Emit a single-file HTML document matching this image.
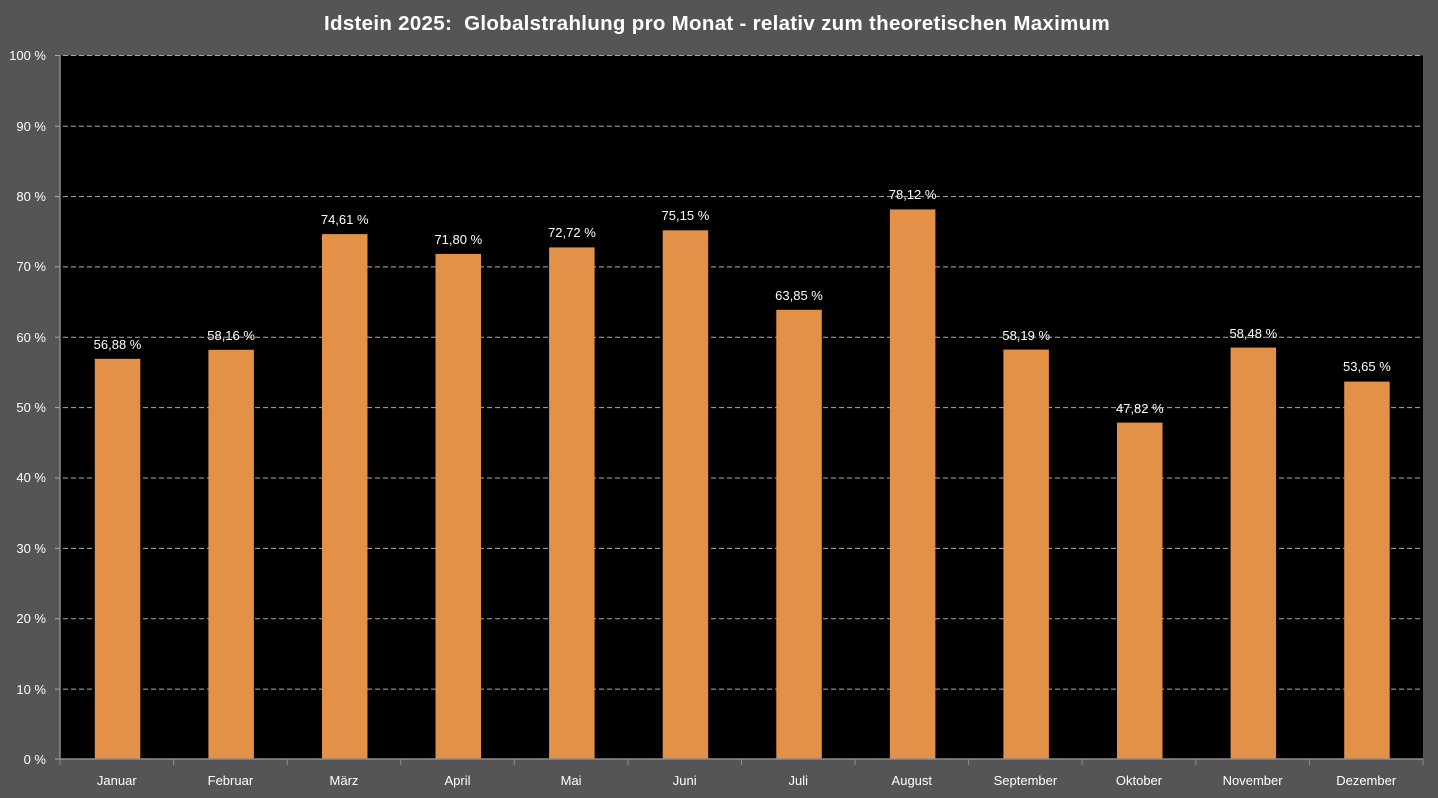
<!DOCTYPE html>
<html><head><meta charset="utf-8"><style>
html,body{margin:0;padding:0;background:#555555;}
svg{display:block;font-family:"Liberation Sans","DejaVu Sans",sans-serif;}
</style></head><body>
<svg width="1438" height="798" viewBox="0 0 1438 798">
<rect width="1438" height="798" fill="#555555"/>
<text x="717" y="30" text-anchor="middle" fill="#ffffff" font-size="20.5" font-weight="bold" letter-spacing="0.3">Idstein 2025:&#160; Globalstrahlung pro Monat - relativ zum theoretischen Maximum</text>
<rect x="60" y="55.5" width="1363" height="703.5" fill="#000000"/>
<g stroke="#aaaaaa" stroke-width="1" stroke-dasharray="5,3">
<line x1="55" x2="1423" y1="55.5" y2="55.5"/>
<line x1="55" x2="1423" y1="126.2" y2="126.2"/>
<line x1="55" x2="1423" y1="196.6" y2="196.6"/>
<line x1="55" x2="1423" y1="266.9" y2="266.9"/>
<line x1="55" x2="1423" y1="337.3" y2="337.3"/>
<line x1="55" x2="1423" y1="407.6" y2="407.6"/>
<line x1="55" x2="1423" y1="478.0" y2="478.0"/>
<line x1="55" x2="1423" y1="548.4" y2="548.4"/>
<line x1="55" x2="1423" y1="618.7" y2="618.7"/>
<line x1="55" x2="1423" y1="689.1" y2="689.1"/>
</g>
<g fill="#e39149">
<rect x="94.8" y="358.8" width="45.5" height="400.2"/>
<rect x="208.4" y="349.8" width="45.5" height="409.2"/>
<rect x="322.0" y="234.1" width="45.5" height="524.9"/>
<rect x="435.5" y="253.9" width="45.5" height="505.1"/>
<rect x="549.1" y="247.4" width="45.5" height="511.6"/>
<rect x="662.7" y="230.3" width="45.5" height="528.7"/>
<rect x="776.3" y="309.8" width="45.5" height="449.2"/>
<rect x="889.9" y="209.4" width="45.5" height="549.6"/>
<rect x="1003.4" y="349.6" width="45.5" height="409.4"/>
<rect x="1117.0" y="422.6" width="45.5" height="336.4"/>
<rect x="1230.6" y="347.6" width="45.5" height="411.4"/>
<rect x="1344.2" y="381.6" width="45.5" height="377.4"/>
</g>
<g stroke="#8c8c8c" stroke-width="1.5">
<line x1="60" y1="55" x2="60" y2="759"/>
<line x1="55" y1="759" x2="1423" y2="759"/>
</g>
<g stroke="#8c8c8c" stroke-width="1">
<line x1="60" y1="759" x2="60" y2="765"/><line x1="173.6" y1="759" x2="173.6" y2="765"/><line x1="287.2" y1="759" x2="287.2" y2="765"/><line x1="400.7" y1="759" x2="400.7" y2="765"/><line x1="514.3" y1="759" x2="514.3" y2="765"/><line x1="627.9" y1="759" x2="627.9" y2="765"/><line x1="741.5" y1="759" x2="741.5" y2="765"/><line x1="855.1" y1="759" x2="855.1" y2="765"/><line x1="968.6" y1="759" x2="968.6" y2="765"/><line x1="1082.2" y1="759" x2="1082.2" y2="765"/><line x1="1195.8" y1="759" x2="1195.8" y2="765"/><line x1="1309.4" y1="759" x2="1309.4" y2="765"/><line x1="1423" y1="759" x2="1423" y2="765"/>
</g>
<g fill="#ffffff" font-size="13" text-anchor="end">
<text x="46" y="60">100 %</text>
<text x="46" y="131">90 %</text>
<text x="46" y="201">80 %</text>
<text x="46" y="271">70 %</text>
<text x="46" y="342">60 %</text>
<text x="46" y="412">50 %</text>
<text x="46" y="482">40 %</text>
<text x="46" y="553">30 %</text>
<text x="46" y="623">20 %</text>
<text x="46" y="694">10 %</text>
<text x="46" y="764">0 %</text>
</g>
<g fill="#ffffff" font-size="13" text-anchor="middle">
<text x="117.5" y="349">56,88 %</text>
<text x="231.1" y="340">58,16 %</text>
<text x="344.7" y="224">74,61 %</text>
<text x="458.3" y="244">71,80 %</text>
<text x="571.9" y="237">72,72 %</text>
<text x="685.4" y="220">75,15 %</text>
<text x="799.0" y="300">63,85 %</text>
<text x="912.6" y="199">78,12 %</text>
<text x="1026.2" y="340">58,19 %</text>
<text x="1139.8" y="413">47,82 %</text>
<text x="1253.3" y="338">58,48 %</text>
<text x="1366.9" y="371">53,65 %</text>
</g>
<g fill="#ffffff" font-size="13" text-anchor="middle">
<text x="116.8" y="785">Januar</text>
<text x="230.4" y="785">Februar</text>
<text x="344.0" y="785">März</text>
<text x="457.5" y="785">April</text>
<text x="571.1" y="785">Mai</text>
<text x="684.7" y="785">Juni</text>
<text x="798.3" y="785">Juli</text>
<text x="911.8" y="785">August</text>
<text x="1025.4" y="785">September</text>
<text x="1139.0" y="785">Oktober</text>
<text x="1252.6" y="785">November</text>
<text x="1366.2" y="785">Dezember</text>
</g>
</svg>
</body></html>
